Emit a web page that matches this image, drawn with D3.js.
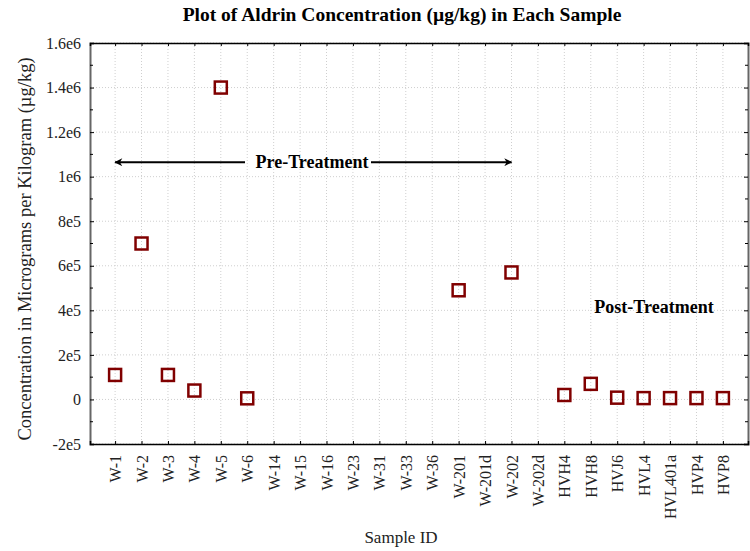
<!DOCTYPE html>
<html>
<head>
<meta charset="utf-8">
<script src="https://cdn.jsdelivr.net/npm/d3@7"></script>
<style>
  body { margin: 0; background: #fff; }
  svg text { font-family: "Liberation Serif", "Times New Roman", serif; }
</style>
</head>
<body>
<div id="chart"></div>
<script>
// sample ids along the x axis
var samples = ["W-1", "W-2", "W-3", "W-4", "W-5", "W-6", "W-14", "W-15", "W-16", "W-23",
    "W-31", "W-33", "W-36", "W-201", "W-201d", "W-202", "W-202d",
    "HVH4", "HVH8", "HVJ6", "HVL4", "HVL401a", "HVP4", "HVP8"];
// aldrin concentration (ug/kg), null = not plotted
var concentration = [110000, 700000, 110000, 40000, 1400000, 5000, null, null, null, null,
    null, null, null, 490000, null, 570000, null,
    20000, 70000, 8000, 6000, 6000, 6000, 6000];
var yTicks = [-200000, 0, 200000, 400000, 600000, 800000, 1000000, 1200000, 1400000, 1600000];
var yTickLabels = ["-2e5", "0", "2e5", "4e5", "6e5", "8e5", "1e6", "1.2e6", "1.4e6", "1.6e6"];
var yMinor = [-100000, 100000, 300000, 500000, 700000, 900000, 1100000, 1300000, 1500000];
var arrowY = 1065000;

var W = 750, H = 551;
var margin = { top: 43, right: 2, bottom: 107, left: 90 };
var width = W - margin.left - margin.right,
    height = H - margin.top - margin.bottom;

var svg = d3.select("#chart").append("svg")
    .attr("width", W)
    .attr("height", H);

var g = svg.append("g")
    .attr("transform", "translate(" + margin.left + "," + margin.top + ")");

var x = d3.scalePoint()
    .domain(samples)
    .range([0, width])
    .padding(0.95);

var y = d3.scaleLinear()
    .domain([-200000, 1600000])
    .range([height, 0]);

// grid
g.append("g").selectAll("line")
    .data(samples)
    .enter().append("line")
    .attr("x1", d => x(d)).attr("x2", d => x(d))
    .attr("y1", 0).attr("y2", height)
    .attr("stroke", "#cfcfcf")
    .attr("stroke-dasharray", "1,2");

g.append("g").selectAll("line")
    .data(yTicks)
    .enter().append("line")
    .attr("x1", 0).attr("x2", width)
    .attr("y1", d => y(d)).attr("y2", d => y(d))
    .attr("stroke", "#cfcfcf")
    .attr("stroke-dasharray", "1,2");

// left axis (ticks inward)
var yAxis = d3.axisLeft(y)
    .tickValues(yTicks)
    .tickFormat((d, i) => yTickLabels[i])
    .tickSize(-4)
    .tickPadding(9);
var ya = g.append("g").call(yAxis);
ya.select(".domain").attr("stroke", "#666").attr("stroke-width", 2);
ya.selectAll("text").attr("font-size", 16).attr("fill", "#222")
    .style("font-family", "Liberation Serif, serif");

g.append("g").selectAll("line")
    .data(yMinor)
    .enter().append("line")
    .attr("x1", 0).attr("x2", 3)
    .attr("y1", d => y(d)).attr("y2", d => y(d))
    .attr("stroke", "#000");

// right axis ticks
var ra = g.append("g")
    .attr("transform", "translate(" + width + ",0)")
    .call(d3.axisRight(y).tickValues(yTicks).tickSize(-4).tickFormat(""));
ra.select(".domain").attr("stroke", "#666").attr("stroke-width", 2);
g.append("g").selectAll("line")
    .data(yMinor)
    .enter().append("line")
    .attr("x1", width).attr("x2", width - 3)
    .attr("y1", d => y(d)).attr("y2", d => y(d))
    .attr("stroke", "#000");

// bottom axis
var xa = g.append("g")
    .attr("transform", "translate(0," + height + ")")
    .call(d3.axisBottom(x).tickSize(-3).tickPadding(0));
xa.select(".domain").attr("stroke", "#000").attr("stroke-width", 1.5);
xa.selectAll("text")
    .attr("font-size", 16)
    .attr("fill", "#222")
    .attr("text-anchor", "end")
    .attr("dy", "0.35em")
    .attr("transform", "translate(0,11) rotate(-90)")
    .attr("x", 0).attr("y", 0)
    .style("font-family", "Liberation Serif, serif");

// top axis
var ta = g.append("g")
    .call(d3.axisTop(x).tickSize(-3).tickFormat(""));
ta.select(".domain").attr("stroke", "#000").attr("stroke-width", 1.5);

// points
g.append("g").selectAll("rect")
    .data(samples.map((s, i) => ({ id: s, v: concentration[i] })).filter(d => d.v !== null))
    .enter().append("rect")
    .attr("x", d => x(d.id) - 6)
    .attr("y", d => y(d.v) - 6)
    .attr("width", 12)
    .attr("height", 12)
    .attr("fill", "none")
    .attr("stroke", "#800000")
    .attr("stroke-width", 2.5);

// annotation arrow
svg.append("defs").append("marker")
    .attr("id", "arr")
    .attr("viewBox", "0 0 10 10")
    .attr("refX", 9).attr("refY", 5)
    .attr("markerWidth", 12).attr("markerHeight", 8)
    .attr("markerUnits", "userSpaceOnUse")
    .attr("orient", "auto-start-reverse")
    .append("path")
    .attr("d", "M0,0 L10,5 L0,10 L3,5 Z")
    .attr("fill", "#000");

var ax1 = x("W-1"), ax2 = x("W-202"), ay = y(arrowY);
var textX = 312 - margin.left;
g.append("line")
    .attr("x1", textX - 67).attr("x2", ax1)
    .attr("y1", ay).attr("y2", ay)
    .attr("stroke", "#000").attr("stroke-width", 2)
    .attr("marker-end", "url(#arr)");
g.append("line")
    .attr("x1", textX + 59).attr("x2", ax2)
    .attr("y1", ay).attr("y2", ay)
    .attr("stroke", "#000").attr("stroke-width", 2)
    .attr("marker-end", "url(#arr)");
g.append("text")
    .attr("x", textX).attr("y", ay + 6)
    .attr("text-anchor", "middle")
    .attr("font-size", 18).attr("font-weight", "bold")
    .text("Pre-Treatment");

g.append("text")
    .attr("x", 654 - margin.left).attr("y", y(400000) + 3)
    .attr("text-anchor", "middle")
    .attr("font-size", 18).attr("font-weight", "bold")
    .text("Post-Treatment");

// titles
svg.append("text")
    .attr("x", 402).attr("y", 21)
    .attr("text-anchor", "middle")
    .attr("font-size", 19.5).attr("font-weight", "bold")
    .text("Plot of Aldrin Concentration (µg/kg) in Each Sample");

svg.append("text")
    .attr("transform", "translate(31,249) rotate(-90)")
    .attr("text-anchor", "middle")
    .attr("font-size", 18.5).attr("fill", "#222")
    .text("Concentration in Micrograms per Kilogram (µg/kg)");

svg.append("text")
    .attr("x", 401).attr("y", 543)
    .attr("text-anchor", "middle")
    .attr("font-size", 17).attr("fill", "#222")
    .text("Sample ID");
</script>
</body>
</html>
